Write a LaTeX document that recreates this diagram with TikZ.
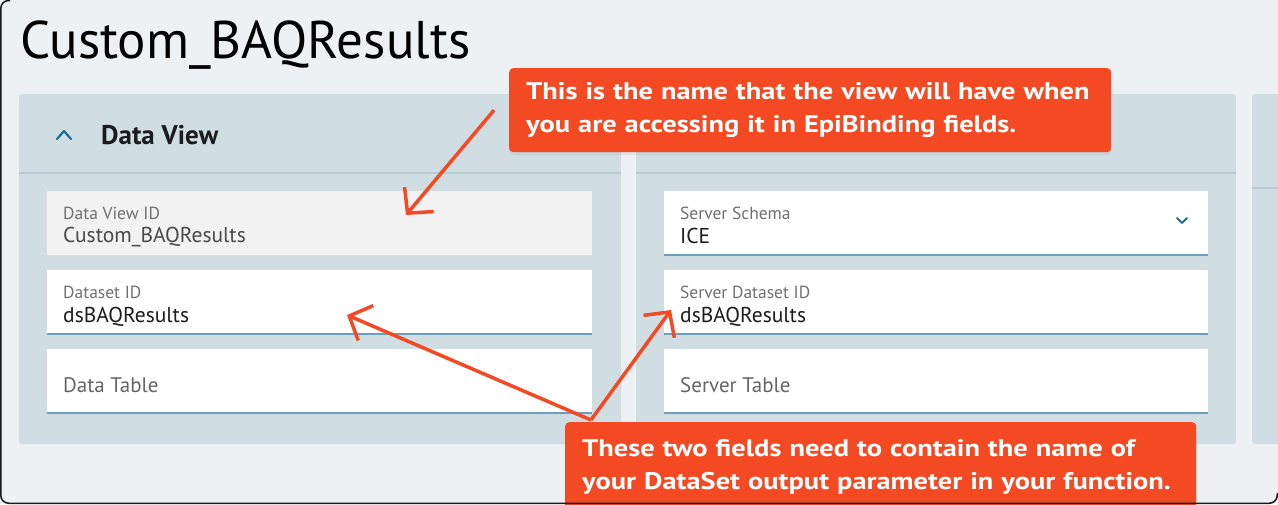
\documentclass[tikz,border=0pt]{standalone}
\usepackage{fontspec}
\setmainfont{PT Sans}
\newfontfamily\notefont{PT Sans}[FakeStretch=1.185]
\usetikzlibrary{arrows.meta}
\usetikzlibrary{shadows}

\definecolor{pagebg}{HTML}{EDF1F4}
\definecolor{panelbg}{HTML}{D0DEE3}
\definecolor{panelline}{HTML}{B6CDD7}
\definecolor{fieldgrey}{HTML}{F2F2F2}
\definecolor{fieldline}{HTML}{6A9FC0}
\definecolor{labelgrey}{HTML}{707070}
\definecolor{valueblack}{HTML}{1C1C1C}
\definecolor{iconblue}{HTML}{1F6E9A}
\definecolor{noteorange}{HTML}{F44A23}
\definecolor{framedark}{HTML}{1A1A1A}

\tikzset{
  panel/.style={fill=panelbg, rounded corners=3pt},
  headline/.style={draw=panelline, line width=1.5pt},
  field/.style={fill=white, anchor=north west, minimum height=64pt, inner sep=0pt, outer sep=0pt},
  underline/.style={draw=fieldline, line width=2pt},
  fieldlabel/.style={anchor=west, inner sep=0pt, text=labelgrey, font=\fontsize{17.5}{19}\selectfont},
  fieldvalue/.style={anchor=west, inner sep=0pt, text=valueblack, font=\fontsize{21.5}{23}\selectfont},
  placeholder/.style={anchor=west, inner sep=0pt, text=labelgrey!90!black, font=\fontsize{21}{23}\selectfont},
  chevron/.style={draw=iconblue, line width=2.2pt, line cap=round, line join=round},
  note/.style={fill=noteorange, rounded corners=4pt, anchor=north west, text=white, align=left,
    inner xsep=17pt, font=\notefont\bfseries\fontsize{24}{33}\selectfont,
    drop shadow={opacity=0.12, shadow xshift=0pt, shadow yshift=-3pt}},
  callarrow/.style={draw=noteorange, line width=3.5pt, -{Straight Barb[length=18pt,width=38pt]}},
}

\begin{document}
\begin{tikzpicture}[x=1pt, y=-1pt]
	\useasboundingbox (0,0) rectangle (1278,504);
	\clip (0,0) rectangle (1278,504);
	\fill[pagebg] (0,0) rectangle (1278,504);

	% page title
	\node [anchor=base west, inner sep=0pt, text=black, font=\fontsize{53}{56}\selectfont] (title) at (20,58) {Custom\_BAQResults};

	% panels
	\fill[panel] (19,94) rectangle (621,444);
	\fill[panel] (636,94) rectangle (1236,444);
	\fill[panel] (1252,94) rectangle (1290,444);
	\draw[headline] (19,173) -- (621,173);
	\draw[headline] (636,173) -- (1236,173);
	\draw[headline] (1252,188) -- (1278,188);

	% panel header
	\draw[chevron] (57,139) -- (64,131) -- (71,139);
	\node [anchor=base west, inner sep=0pt, font=\bfseries\fontsize{27}{29}\selectfont, text=valueblack] (head) at (101,144) {Data View};

	% left fields
	\node [field, fill=fieldgrey, minimum width=545pt] (viewid) at (47,191) {};
	\node [field, minimum width=545pt] (dsid) at (47,270) {};
	\node [field, minimum width=545pt] (dtable) at (47,349) {};
	\draw[underline] (dsid.south west) -- (dsid.south east);
	\draw[underline] (dtable.south west) -- (dtable.south east);

	% right fields
	\node [field, minimum width=544pt] (schema) at (664,191) {};
	\node [field, minimum width=544pt] (srvid) at (664,270) {};
	\node [field, minimum width=544pt] (srvtable) at (664,349) {};
	\draw[underline] (schema.south west) -- (schema.south east);
	\draw[underline] (srvid.south west) -- (srvid.south east);
	\draw[underline] (srvtable.south west) -- (srvtable.south east);
	\draw[chevron, line width=1.8pt] (1177,218) -- (1182,223) -- (1187,218);

	% field texts
	\node [fieldlabel] (viewidl) at (63,213) {Data View ID};
	\node [fieldvalue, text=valueblack!80] (viewidv) at (63,237) {Custom\_BAQResults};
	\node [fieldlabel] (dsidl) at (63,292) {Dataset ID};
	\node [fieldvalue] (dsidv) at (63,317) {dsBAQResults};
	\node [placeholder] (dtablel) at (63,385) {Data Table};
	\node [fieldlabel] (schemal) at (680,213) {Server Schema};
	\node [fieldvalue] (schemav) at (680,236) {ICE};
	\node [fieldlabel] (srvidl) at (680,292) {Server Dataset ID};
	\node [fieldvalue] (srvidv) at (680,317) {dsBAQResults};
	\node [placeholder] (srvtablel) at (680,385) {Server Table};

	% callouts
	\node [note, text width=568pt, minimum height=84pt] (noteview) at (509,68)
		{This is the name that the view will have when\\you are accessing it in EpiBinding fields.};
	\node [note, text width=597pt, minimum height=90pt] (notedata) at (565,422)
		{These two fields need to contain the name of\\your DataSet output parameter in your function.};

	% arrows
	\coordinate (tipview) at (406,215);
	\coordinate (tipds) at (347,315);
	\coordinate (tipsrv) at (671,310);
	\draw[callarrow] ([xshift=-15pt]noteview.west) -- (tipview);
	\draw[callarrow] ([xshift=26pt, yshift=2pt]notedata.north west) -- (tipds);
	\draw[callarrow] ([xshift=26pt, yshift=2pt]notedata.north west) -- (tipsrv);

	% window frame
	\draw[framedark, line width=1.5pt, rounded corners=8pt] (10,0.5) -- (0.75,0.5) -- (0.75,503.25) -- (1277.25,503.25) -- (1277.25,493);
\end{tikzpicture}
\end{document}
